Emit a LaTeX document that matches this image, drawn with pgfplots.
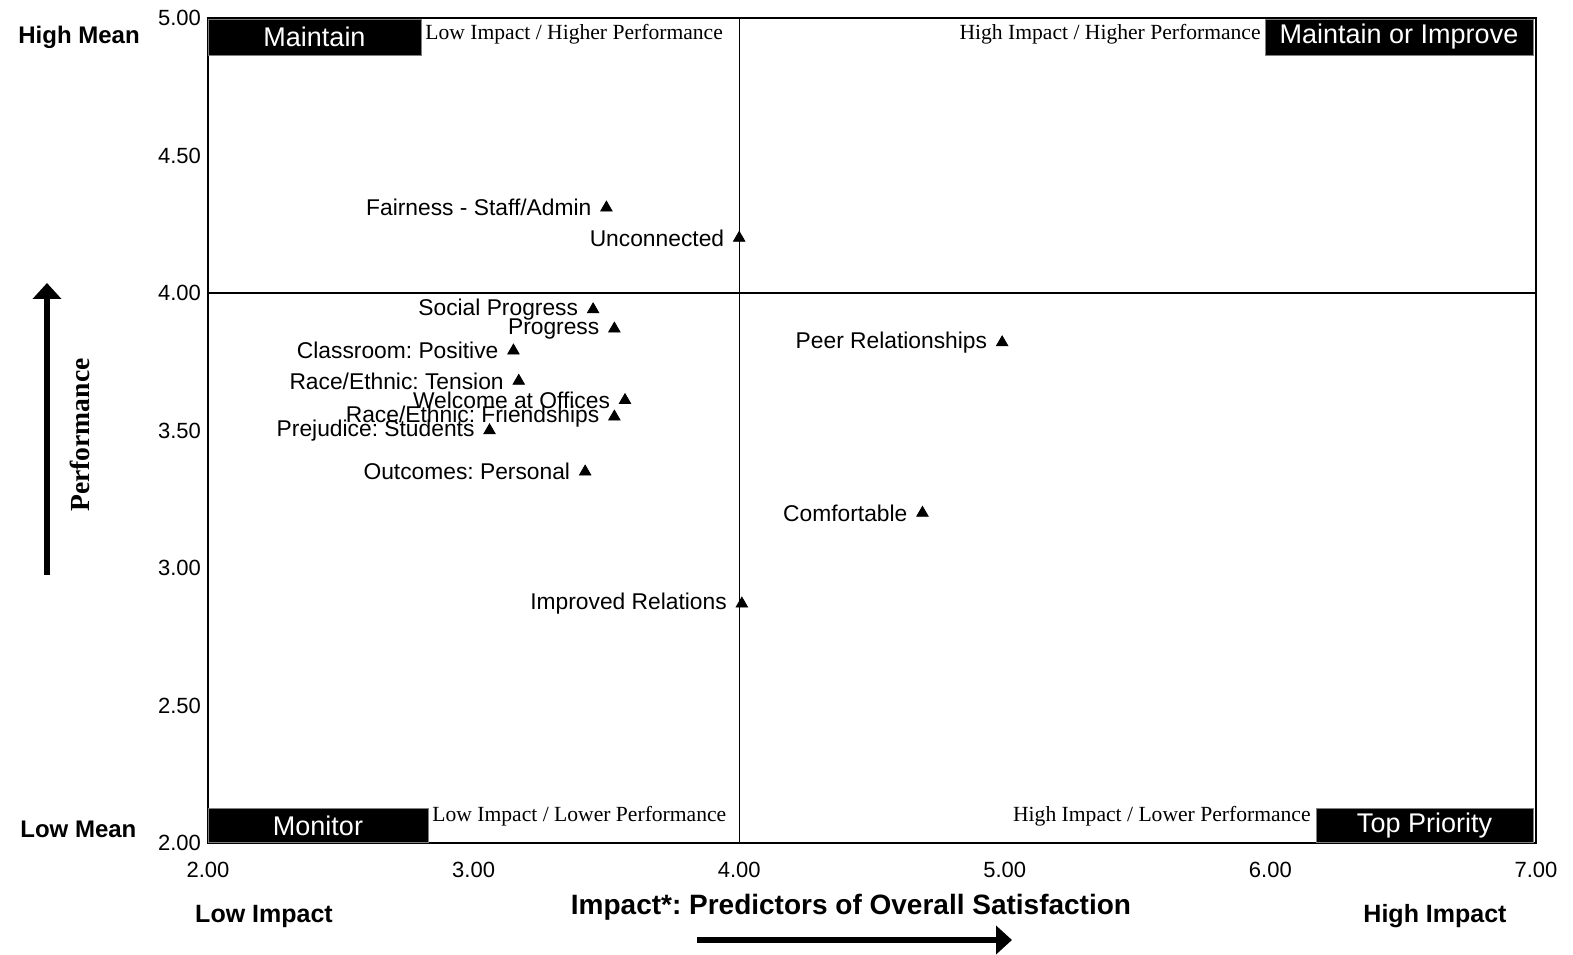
\documentclass[border=0pt]{standalone}
\usepackage{pgfplots}
\usepackage{pgfplotstable}
\pgfplotsset{compat=1.18}
\usepackage{fontspec}
\setmainfont{Liberation Sans}
\newfontfamily\serifff{Liberation Serif}
\usetikzlibrary{arrows.meta}
\frenchspacing
\newcommand{\labelfont}{\fontsize{11.4}{13}\selectfont}
\pgfplotstableread[col sep=comma]{
x,y,label
3.50,4.31,Fairness - Staff/Admin
4.00,4.20,Unconnected
3.45,3.94,Social Progress
3.53,3.87,Progress
3.15,3.79,Classroom: Positive
3.17,3.68,Race/Ethnic: Tension
3.57,3.61,Welcome at Offices
3.53,3.55,Race/Ethnic: Friendships
3.06,3.50,Prejudice: Students
3.42,3.35,Outcomes: Personal
4.01,2.87,Improved Relations
4.99,3.82,Peer Relationships
4.69,3.20,Comfortable
}\pointdata
\begin{document}
\begin{tikzpicture}
\useasboundingbox (-104pt,-55.5pt) rectangle (682.5pt,421.5pt);
\begin{axis}[
  at={(0,0)}, anchor=south west,
  scale only axis, width=664pt, height=412.5pt,
  xmin=2, xmax=7, ymin=2, ymax=5,
  xtick={2,3,4,5,6,7}, ytick={2,2.5,3,3.5,4,4.5,5},
  major tick length=0pt,
  axis line style={line width=0.8pt},
  tick label style={font=\fontsize{11}{13}\selectfont},
  xticklabel style={yshift=-6pt},
  /pgf/number format/.cd, fixed, fixed zerofill, precision=2, assume math mode=true,
]
\draw[line width=0.7pt] (axis cs:4,2) -- (axis cs:4,5);
\draw[line width=0.7pt] (axis cs:2,4) -- (axis cs:7,4);
\addplot[only marks, mark=triangle*, mark size=3.3pt, black,
  point meta=explicit symbolic, nodes near coords,
  nodes near coords style={anchor=east, xshift=-4pt, font=\labelfont, text=black}]
  table[x=x, y=y, meta=label]{\pointdata};
\end{axis}
\begin{scope}[shift={(-104pt,421.5pt)}, x=0.5pt, y=-0.5pt]
  % quadrant boxes
  \fill[black, draw=gray, line width=0.4pt] (208,19) rectangle (421,55);
  \node[text=white, font=\fontsize{13.5}{15}\selectfont] at (314.5,37) {Maintain};
  \fill[black, draw=gray, line width=0.4pt] (1265,19) rectangle (1533,55);
  \node[text=white, font=\fontsize{13.5}{15}\selectfont] at (1399,37) {Maintain or Improve};
  \fill[black, draw=gray, line width=0.4pt] (208,808) rectangle (428,842);
  \node[text=white, font=\fontsize{13.5}{15}\selectfont] at (318,826) {Monitor};
  \fill[black, draw=gray, line width=0.4pt] (1316,808) rectangle (1533,842);
  \node[text=white, font=\fontsize{13.5}{15}\selectfont] at (1424.5,826) {Top Priority};
  % corner descriptions
  \node[anchor=west, inner sep=0pt, font=\serifff\fontsize{10.8}{12}\selectfont] at (425,34) {Low Impact / Higher Performance};
  \node[anchor=east, inner sep=0pt, font=\serifff\fontsize{10.8}{12}\selectfont] at (1261,34) {High Impact / Higher Performance};
  \node[anchor=west, inner sep=0pt, font=\serifff\fontsize{10.8}{12}\selectfont] at (432,816) {Low Impact / Lower Performance};
  \node[anchor=east, inner sep=0pt, font=\serifff\fontsize{10.8}{12}\selectfont] at (1311,816) {High Impact / Lower Performance};
  % outer labels
  \node[anchor=west, inner sep=0pt, font=\bfseries\fontsize{12}{14}\selectfont] at (18,37) {High Mean};
  \node[anchor=west, inner sep=0pt, font=\bfseries\fontsize{12}{14}\selectfont] at (20,829) {Low Mean};
  \node[inner sep=0pt, font=\bfseries\fontsize{12.5}{14}\selectfont] at (264,916) {Low Impact};
  \node[inner sep=0pt, font=\bfseries\fontsize{12.5}{14}\selectfont] at (1435,916) {High Impact};
  \node[inner sep=0pt, font=\bfseries\fontsize{14}{16}\selectfont] at (851,907) {Impact*: Predictors of Overall Satisfaction};
  \node[inner sep=0pt, rotate=90, font=\serifff\bfseries\fontsize{13.8}{15}\selectfont] at (80,435) {Performance};
  % arrows
  \draw[line width=2.7pt, -{Triangle[length=8pt, width=14pt]}] (697,940) -- (1012,940);
  \draw[line width=2.7pt, -{Triangle[length=8pt, width=14pt]}] (47,575) -- (47,283);
\end{scope}
\end{tikzpicture}
\end{document}
